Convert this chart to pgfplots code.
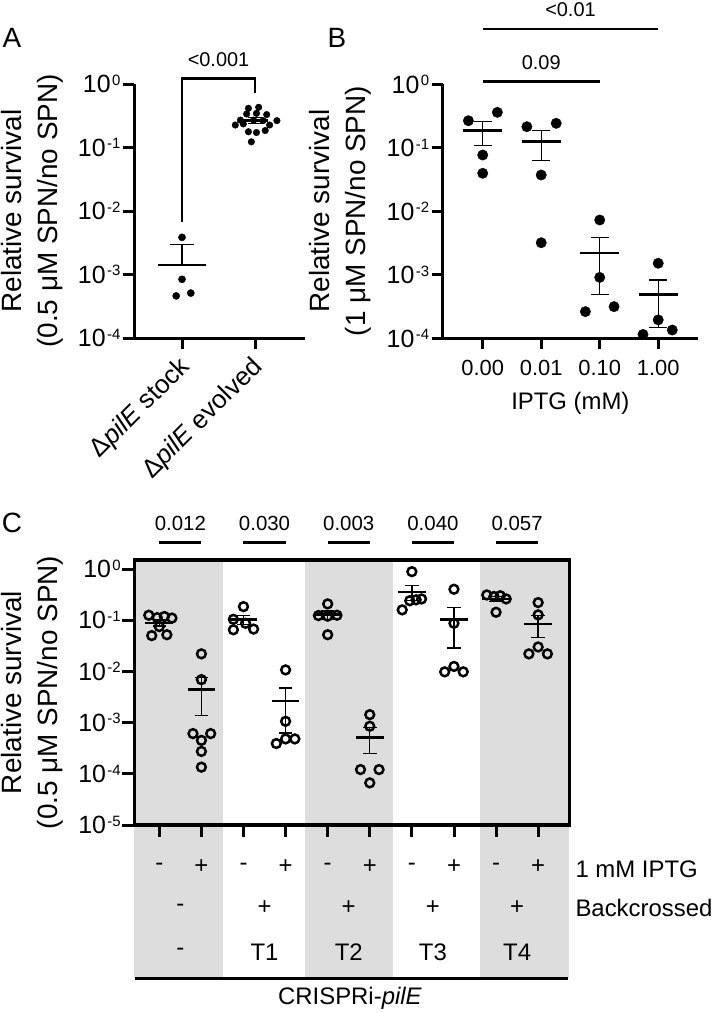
\documentclass[border=0pt]{standalone}
\usepackage{fontspec}
\setmainfont{Liberation Sans}
\usepackage{pgfplots}
\pgfplotsset{compat=1.18}
\definecolor{band}{RGB}{221,221,221}

% power-of-ten tick label set in the text font
\newcommand{\pw}[1]{10\hspace{1.5bp}\raisebox{7.5bp}{\fontsize{15}{15}\selectfont #1}}
\newcommand{\fs}[1]{\fontsize{#1}{#1}\selectfont}

\pgfplotsset{
  sem/.style={black, line width=1.4bp, unbounded coords=jump, forget plot},
  meanline/.style={black, line width=2.8bp, unbounded coords=jump, forget plot},
  bracket/.style={black, line width=2.7bp, forget plot},
}
\tikzset{tk/.style={line width=3bp, black}}

\begin{document}
\begin{tikzpicture}
\path[use as bounding box] (0,0) rectangle (712bp,-1013bp);

% ---------------- panel letters and y labels ----------------
\node[font=\fs{28}] at (12bp,-38bp) {A};
\node[font=\fs{28}] at (337bp,-38bp) {B};
\node[font=\fs{28}] at (12bp,-523bp) {C};

\node[rotate=90, align=center, font=\fontsize{28}{36}\selectfont] at (32bp,-211bp)
  {Relative survival\\(0.5 μM SPN/no SPN)};
\node[rotate=90, align=center, font=\fontsize{28}{36}\selectfont] at (340.7bp,-211bp)
  {Relative survival\\(1 μM SPN/no SPN)};
\node[rotate=90, align=center, font=\fontsize{28}{36}\selectfont] at (32bp,-692.5bp)
  {Relative survival\\(0.5 μM SPN/no SPN)};

% shaded strain columns of panel C, running down through the condition table
\fill[band] (134.3bp,-560bp) rectangle (223.3bp,-978.3bp);
\fill[band] (305bp,-560bp) rectangle (393.3bp,-978.3bp);
\fill[band] (480bp,-560bp) rectangle (569.3bp,-978.3bp);

% ---------------- A: stock vs evolved ----------------
\begin{axis}[
  scale only axis, clip=false,
  ymode=log, log basis y=10, yminorticks=false,
  at={(134bp,-84bp)}, anchor=north west,
  width=171bp, height=254bp,
  xmin=-0.658, xmax=1.685, ymin=1e-4, ymax=1,
  axis x line*=bottom, axis y line*=left,
  axis line style={line width=3bp, black},
  tick align=outside, major tick length=10bp,
  ytick={1e-4,1e-3,1e-2,1e-1,1},
  yticklabels={\pw{-4},\pw{-3},\pw{-2},\pw{-1},\pw{0}},
  yticklabel style={font=\fs{25}},
  xtick={0,1},
  xticklabels={},
]
\addplot[only marks, mark=*, mark size=3.6bp, black]
  coordinates {(0,3.85e-3) (0,8.4e-4) (-0.08,4.6e-4) (0.12,5.1e-4)};
\addplot[only marks, mark=*, mark size=3.3bp, black]
  coordinates {(0.91,0.414) (1.05,0.43) (0.885,0.337) (1.02,0.345)
               (0.73,0.226) (0.84,0.235) (0.98,0.27) (1.11,0.265)
               (1.30,0.265) (1.20,0.226) (0.91,0.177) (1.02,0.172)
               (1.14,0.185) (0.95,0.123) (0.80,0.27) (1.16,0.33)};
\addplot[meanline] coordinates {(-0.33,1.41e-3) (0.33,1.41e-3) (nan,nan)
                                (0.82,0.268) (1.18,0.268)};
\addplot[sem] coordinates {(0,1.41e-3) (0,2.95e-3) (nan,nan)
                           (-0.165,2.95e-3) (0.165,2.95e-3) (nan,nan)
                           (1,0.24) (1,0.30) (nan,nan)
                           (0.9,0.30) (1.1,0.30) (nan,nan)
                           (0.9,0.24) (1.1,0.24)};
\addplot[bracket] coordinates {(0,6.8e-3) (0,1.23) (1,1.23) (1,0.72)};
\node[font=\fs{20}] at (axis cs:0.5,2.39) {<0.001};
% strain names under the two ticks
\node[rotate=45, anchor=east, inner sep=0pt, font=\fs{26}]
  at ([xshift=4bp,yshift=-25bp]axis cs:0,1e-4) {Δ\textit{pilE} stock};
\node[rotate=45, anchor=east, inner sep=0pt, font=\fs{26}]
  at ([xshift=4bp,yshift=-25bp]axis cs:1,1e-4) {Δ\textit{pilE} evolved};
\end{axis}

% ---------------- B: IPTG titration ----------------
\begin{axis}[
  scale only axis, clip=false,
  ymode=log, log basis y=10, yminorticks=false,
  at={(442.7bp,-84.3bp)}, anchor=north west,
  width=255.3bp, height=254bp,
  xmin=-0.684, xmax=3.68, ymin=1e-4, ymax=1,
  axis x line*=bottom, axis y line*=left,
  axis line style={line width=3bp, black},
  tick align=outside, major tick length=10bp,
  ytick={1e-4,1e-3,1e-2,1e-1,1},
  yticklabels={\pw{-4},\pw{-3},\pw{-2},\pw{-1},\pw{0}},
  yticklabel style={font=\fs{25}},
  xtick={0,1,2,3},
  xticklabels={0.00,0.01,0.10,1.00},
  xticklabel style={font=\fs{22}, yshift=-8bp},
  xlabel={IPTG (mM)},
  xlabel style={font=\fs{24}, yshift=-10bp},
]
\addplot[only marks, mark=*, mark size=5.2bp, black]
  coordinates {(-0.245,0.267) (0.25,0.362) (0,0.077) (0,0.0397)
               (0.755,0.215) (1.256,0.243) (1,0.0373) (1,0.0032)
               (2,0.0073) (2,9.1e-4) (1.755,2.63e-4) (2.245,3.15e-4)
               (3,1.52e-3) (3,1.95e-4) (2.74,1.15e-4) (3.24,1.35e-4)};
\addplot[meanline] coordinates {(-0.33,0.186) (0.33,0.186) (nan,nan)
                                (0.67,0.126) (1.33,0.126) (nan,nan)
                                (1.67,2.2e-3) (2.33,2.2e-3) (nan,nan)
                                (2.67,4.9e-4) (3.33,4.9e-4)};
\addplot[sem] coordinates {(0,0.109) (0,0.258) (nan,nan)
                           (-0.157,0.258) (0.157,0.258) (nan,nan)
                           (-0.157,0.109) (0.157,0.109) (nan,nan)
                           (1,0.0635) (1,0.186) (nan,nan)
                           (0.843,0.186) (1.157,0.186) (nan,nan)
                           (0.843,0.0635) (1.157,0.0635) (nan,nan)
                           (2,4.9e-4) (2,3.9e-3) (nan,nan)
                           (1.843,3.9e-3) (2.157,3.9e-3) (nan,nan)
                           (1.843,4.9e-4) (2.157,4.9e-4) (nan,nan)
                           (3,1.47e-4) (3,8.3e-4) (nan,nan)
                           (2.843,8.3e-4) (3.157,8.3e-4) (nan,nan)
                           (2.843,1.47e-4) (3.157,1.47e-4)};
\addplot[bracket] coordinates {(0,1.1) (2,1.1)};
\addplot[bracket] coordinates {(0,7.43) (3,7.43)};
\node[font=\fs{20}] at (axis cs:1,2.16) {0.09};
\node[font=\fs{20}] at (axis cs:1.5,14.8) {<0.01};
\end{axis}

% ---------------- C: CRISPRi-pilE strains ----------------
\begin{axis}[
  scale only axis, clip=false,
  ymode=log, log basis y=10, yminorticks=false,
  at={(134.3bp,-560bp)}, anchor=north west,
  width=435bp, height=265bp,
  xmin=-0.594, xmax=9.74, ymin=1e-5, ymax=1.497,
  axis line style={line width=3.2bp, black},
  tick align=outside, major tick length=10bp,
  tick pos=left,
  ytick={1e-5,1e-4,1e-3,1e-2,1e-1,1},
  yticklabels={\pw{-5},\pw{-4},\pw{-3},\pw{-2},\pw{-1},\pw{0}},
  yticklabel style={font=\fs{25}},
  xtick={0,...,9},
  xticklabels={},
]
\addplot[only marks, mark=o, mark size=4.4bp, black, mark options={line width=2.5bp}]
  coordinates {(-0.25,0.125) (-0.05,0.112) (0.12,0.118) (0.3,0.11) (-0.18,0.05) (0.18,0.052) (0,0.075)
               (1,0.022) (1,0.0069) (0.8,6.1e-4) (1.22,6.1e-4) (1,4.5e-4) (1,2.74e-4) (1,1.35e-4)
               (2,0.184) (1.76,0.104) (2.05,0.087) (1.76,0.065) (2.24,0.067)
               (3,0.0107) (3,0.00106) (2.78,3.9e-4) (3,4.8e-4) (3.22,4.8e-4)
               (4,0.208) (3.78,0.123) (4,0.12) (4.22,0.125) (4,0.052)
               (5,1.43e-3) (5,8.5e-4) (4.78,1.21e-4) (5.22,1.21e-4) (5,6.65e-5)
               (6,0.887) (5.77,0.159) (5.95,0.24) (6.1,0.25) (6.23,0.26)
               (7,0.402) (7,0.087) (6.78,0.0098) (7,0.0125) (7.22,0.0098)
               (7.78,0.311) (7.95,0.29) (8.1,0.30) (8.24,0.26) (8,0.143)
               (9,0.221) (9,0.127) (8.78,0.022) (9.22,0.022) (9,0.03)};
\addplot[meanline] coordinates {(-0.33,0.088) (0.33,0.088) (nan,nan)
                                (0.67,4.43e-3) (1.33,4.43e-3) (nan,nan)
                                (1.67,0.104) (2.33,0.104) (nan,nan)
                                (2.67,2.64e-3) (3.33,2.64e-3) (nan,nan)
                                (3.67,0.128) (4.33,0.128) (nan,nan)
                                (4.67,5.15e-4) (5.33,5.15e-4) (nan,nan)
                                (5.67,0.355) (6.33,0.355) (nan,nan)
                                (6.67,0.105) (7.33,0.105) (nan,nan)
                                (7.67,0.26) (8.33,0.26) (nan,nan)
                                (8.67,0.0840) (9.33,0.0840)};
\addplot[sem] coordinates {(0,0.077) (0,0.100) (nan,nan)
                           (-0.16,0.100) (0.16,0.100) (nan,nan) (-0.16,0.077) (0.16,0.077) (nan,nan)
                           (1,1.38e-3) (1,7.5e-3) (nan,nan)
                           (0.84,7.5e-3) (1.16,7.5e-3) (nan,nan) (0.84,1.38e-3) (1.16,1.38e-3) (nan,nan)
                           (2,0.082) (2,0.124) (nan,nan)
                           (1.84,0.124) (2.16,0.124) (nan,nan) (1.84,0.082) (2.16,0.082) (nan,nan)
                           (3,6.3e-4) (3,4.7e-3) (nan,nan)
                           (2.84,4.7e-3) (3.16,4.7e-3) (nan,nan) (2.84,6.3e-4) (3.16,6.3e-4) (nan,nan)
                           (4,0.103) (4,0.152) (nan,nan)
                           (3.84,0.152) (4.16,0.152) (nan,nan) (3.84,0.103) (4.16,0.103) (nan,nan)
                           (5,2.48e-4) (5,8.1e-4) (nan,nan)
                           (4.84,8.1e-4) (5.16,8.1e-4) (nan,nan) (4.84,2.48e-4) (5.16,2.48e-4) (nan,nan)
                           (6,0.245) (6,0.473) (nan,nan)
                           (5.84,0.473) (6.16,0.473) (nan,nan) (5.84,0.245) (6.16,0.245) (nan,nan)
                           (7,0.0284) (7,0.179) (nan,nan)
                           (6.84,0.179) (7.16,0.179) (nan,nan) (6.84,0.0284) (7.16,0.0284) (nan,nan)
                           (8,0.230) (8,0.291) (nan,nan)
                           (7.84,0.291) (8.16,0.291) (nan,nan) (7.84,0.230) (8.16,0.230) (nan,nan)
                           (9,0.0458) (9,0.124) (nan,nan)
                           (8.84,0.124) (9.16,0.124) (nan,nan) (8.84,0.0458) (9.16,0.0458)};
% comparison bars above the pairs
\addplot[black, line width=3.2bp, unbounded coords=jump, forget plot]
  coordinates {(0,3.32) (1,3.32) (nan,nan) (2,3.32) (3,3.32) (nan,nan)
               (4,3.32) (5,3.32) (nan,nan) (6,3.32) (7,3.32) (nan,nan)
               (8,3.32) (9,3.32)};
\node[font=\fs{20.5}] at (axis cs:0.5,7.88) {0.012};
\node[font=\fs{20.5}] at (axis cs:2.5,7.88) {0.030};
\node[font=\fs{20.5}] at (axis cs:4.5,7.88) {0.003};
\node[font=\fs{20.5}] at (axis cs:6.5,7.88) {0.040};
\node[font=\fs{20.5}] at (axis cs:8.5,7.88) {0.057};
\end{axis}

% ---------------- heavy axis lines and tick marks ----------------
% A
\draw[tk, line join=miter] (134bp,-84bp) -- (134bp,-338bp) -- (305bp,-338bp);
\foreach \y in {84,147.5,211,274.5,338} \draw[tk] (123bp,-\y bp) -- (134bp,-\y bp);
\foreach \x in {182,255} \draw[tk] (\x bp,-338bp) -- (\x bp,-349bp);
% B
\draw[tk, line join=miter] (442.7bp,-84.3bp) -- (442.7bp,-338.3bp) -- (698bp,-338.3bp);
\foreach \y in {84.3,147.8,211.3,274.8,338.3} \draw[tk] (431.7bp,-\y bp) -- (442.7bp,-\y bp);
\foreach \x in {482.7,541.2,599.7,658.2} \draw[tk] (\x bp,-338.3bp) -- (\x bp,-349.3bp);
% C
\draw[tk, line width=3.2bp] (134.3bp,-560bp) rectangle (569.3bp,-825bp);
\foreach \y in {569,620.2,671.4,722.6,773.8,825} \draw[tk] (121.5bp,-\y bp) -- (134.3bp,-\y bp);
\foreach \x in {159.3,201.4,243.5,285.6,327.7,369.8,411.9,454.0,496.1,538.2}
  \draw[tk] (\x bp,-825bp) -- (\x bp,-836.5bp);

% ---------------- condition table under panel C ----------------
\begin{scope}[every node/.style={font=\fs{24}}]
\node at (159.3bp,-867bp) {-};
\node at (201.4bp,-867bp) {+};
\node at (243.5bp,-867bp) {-};
\node at (285.6bp,-867bp) {+};
\node at (327.7bp,-867bp) {-};
\node at (369.8bp,-867bp) {+};
\node at (411.9bp,-867bp) {-};
\node at (454.0bp,-867bp) {+};
\node at (496.1bp,-867bp) {-};
\node at (538.2bp,-867bp) {+};
\node at (180.3bp,-908bp) {-};
\node at (264.5bp,-908bp) {+};
\node at (348.7bp,-908bp) {+};
\node at (432.9bp,-908bp) {+};
\node at (517.1bp,-908bp) {+};
\node at (180.3bp,-952bp) {-};
\node at (264.5bp,-952bp) {T1};
\node at (348.7bp,-952bp) {T2};
\node at (432.9bp,-952bp) {T3};
\node at (517.1bp,-952bp) {T4};
\node[anchor=west] at (572bp,-869bp) {1 mM IPTG};
\node[anchor=west] at (572bp,-908bp) {Backcrossed};
\node at (350bp,-998bp) {CRISPRi-\textit{pilE}};
\end{scope}
\draw[line width=3.3bp] (135bp,-978.3bp) -- (568bp,-978.3bp);
\end{tikzpicture}
\end{document}
